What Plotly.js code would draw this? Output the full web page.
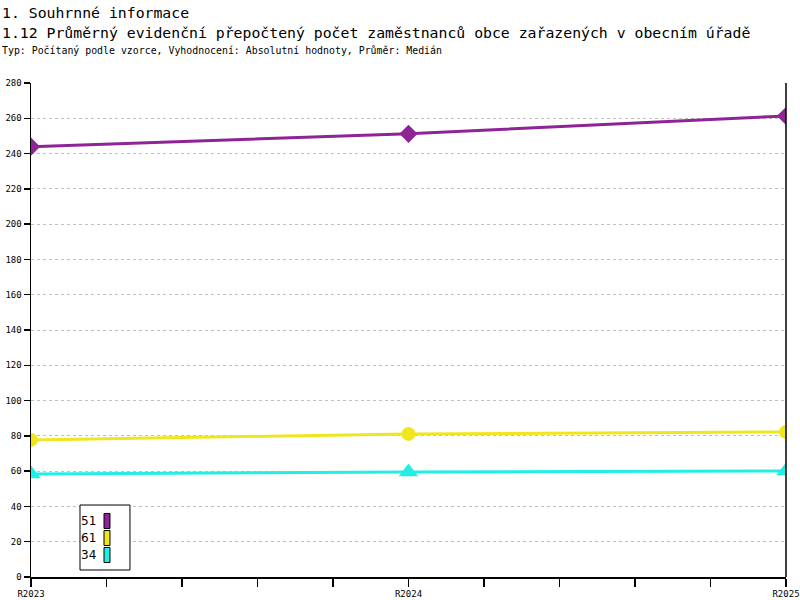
<!DOCTYPE html>
<html>
<head>
<meta charset="utf-8">
<script src="https://cdn.plot.ly/plotly-3.0.1.min.js"></script>
<style>html,body{margin:0;padding:0;background:#fff;}#chart{width:800px;height:600px;}</style>
</head>
<body>
<div id="chart"></div>
<script>
// ---- data ----
const years = ['R2023', 'R2024', 'R2025'];
const seriesNames = ['51', '61', '34'];
const series51 = [243.9, 251.2, 261.3];
const series61 = [77.7, 81.1, 82.2];
const series34 = [58.4, 59.5, 60.1];
const yTicks = [0, 20, 40, 60, 80, 100, 120, 140, 160, 180, 200, 220, 240, 260, 280];

const colors = ['#8e2496', '#f0e61e', '#22eee4'];
const symbols = ['diamond', 'circle', 'triangle-up'];
const markerSizes = [14, 14, 17];
const allSeries = [series51, series61, series34];

// numeric x positions of the years; minor ticks every fifth of a year
const xPos = years.map((_, i) => i);
const tickVals = [];
const tickText = [];
for (let i = 0; i < years.length; i++) {
  tickVals.push(i); tickText.push(years[i]);
  if (i < years.length - 1) {
    for (let k = 1; k < 5; k++) { tickVals.push(i + k / 5); tickText.push(''); }
  }
}

const traces = allSeries.map((vals, i) => ({
  x: xPos, y: vals, name: seriesNames[i], type: 'scatter', mode: 'lines+markers',
  line: {color: colors[i], width: 3},
  marker: {color: colors[i], symbol: symbols[i], size: markerSizes[i]},
  showlegend: false, hoverinfo: 'skip'
}));

const mono = 'DejaVu Sans Mono, Liberation Mono, monospace';

// custom legend (text left, swatch right)
const shapes = [
  {type: 'line', xref: 'paper', yref: 'paper', x0: 1, x1: 1, y0: 0, y1: 1, line: {color: '#000', width: 1.5}},
  {type: 'rect', xref: 'paper', yref: 'paper', x0: 0.0649, x1: 0.1311, y0: 0.0142, y1: 0.1457,
   line: {color: '#000', width: 1}, fillcolor: '#fff'}
];
const annotations = [
  {text: '1. Souhrnné informace', xref: 'paper', yref: 'paper', x: -0.041, y: 1.1437, xanchor: 'left', yanchor: 'middle', showarrow: false, font: {family: mono, size: 14.8, color: '#000'}},
  {text: '1.12 Průměrný evidenční přepočtený počet zaměstnanců obce zařazených v obecním úřadě', xref: 'paper', yref: 'paper', x: -0.041, y: 1.1032, xanchor: 'left', yanchor: 'middle', showarrow: false, font: {family: mono, size: 14.8, color: '#000'}},
  {text: 'Typ: Počítaný podle vzorce, Vyhodnocení: Absolutní hodnoty, Průměr: Medián', xref: 'paper', yref: 'paper', x: -0.041, y: 1.0648, xanchor: 'left', yanchor: 'middle', showarrow: false, font: {family: mono, size: 9.9, color: '#000'}}
];
const rowY = [0.1134, 0.0789, 0.0445];
seriesNames.forEach((n, i) => {
  annotations.push({text: n, xref: 'paper', yref: 'paper', x: 0.0887, y: rowY[i], xanchor: 'right', yanchor: 'middle', showarrow: false, font: {family: 'DejaVu Sans, sans-serif', size: 12, color: '#000'}});
  shapes.push({type: 'rect', xref: 'paper', yref: 'paper', x0: 0.0967, x1: 0.1046, y0: rowY[i] - 0.0152, y1: rowY[i] + 0.0152, line: {color: '#000', width: 1}, fillcolor: colors[i]});
});

const layout = {
  width: 800, height: 600,
  margin: {l: 31, r: 14, t: 83, b: 23},
  paper_bgcolor: '#fff', plot_bgcolor: '#fff',
  showlegend: false,
  xaxis: {
    range: [0, years.length - 1], tickmode: 'array', tickvals: tickVals, ticktext: tickText,
    showgrid: false, zeroline: false, showline: true, linecolor: '#000', linewidth: 1.5,
    ticks: 'outside', ticklen: 8, tickwidth: 1.5, tickcolor: '#000',
    tickfont: {family: mono, size: 9, color: '#000'}, fixedrange: true
  },
  yaxis: {
    range: [0, 280], tickmode: 'array', tickvals: yTicks,
    showgrid: true, gridcolor: '#c0c0c0', griddash: 'dot', gridwidth: 1,
    zeroline: false, showline: true, linecolor: '#000', linewidth: 1.5,
    ticks: 'outside', ticklen: 6, tickwidth: 1.5, tickcolor: '#000',
    tickfont: {family: mono, size: 9, color: '#000'}, fixedrange: true
  },
  shapes: shapes,
  annotations: annotations
};

Plotly.newPlot('chart', traces, layout, {displayModeBar: false, staticPlot: true});
</script>
</body>
</html>
